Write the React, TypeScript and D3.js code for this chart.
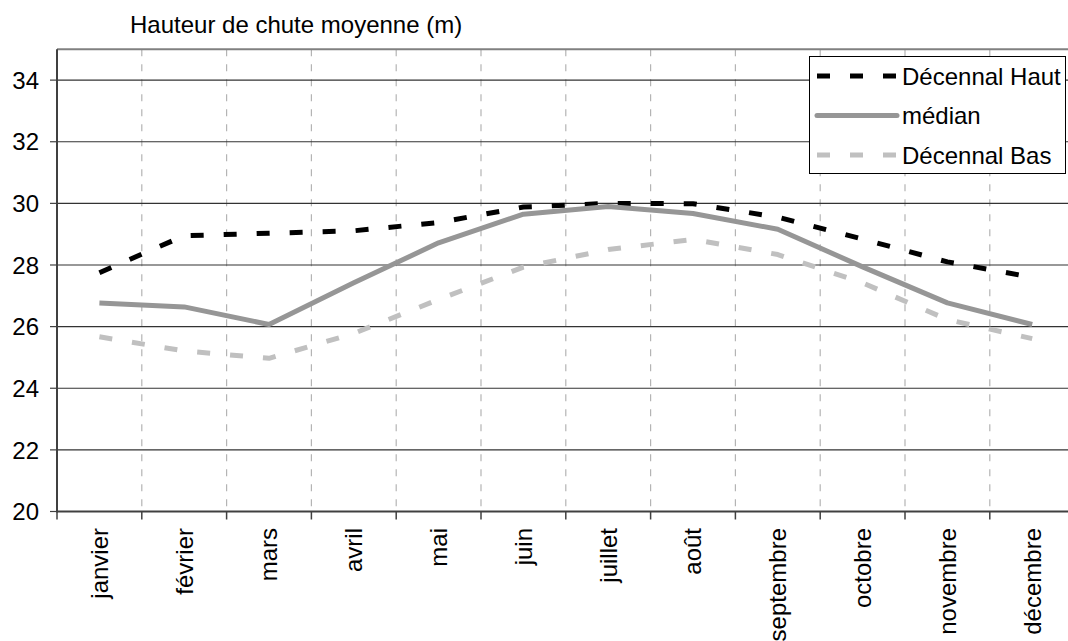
import React from "react";
import * as d3 from "d3";

const months = ["janvier", "février", "mars", "avril", "mai", "juin", "juillet", "août", "septembre", "octobre", "novembre", "décembre"];
const decennalHaut = [27.75, 28.95, 29.03, 29.11, 29.38, 29.88, 30.0, 29.99, 29.55, 28.84, 28.1, 27.6];
const median = [26.77, 26.64, 26.07, 27.42, 28.72, 29.65, 29.9, 29.67, 29.16, 27.94, 26.77, 26.07];
const decennalBas = [25.67, 25.21, 24.97, 25.78, 26.88, 27.93, 28.5, 28.83, 28.34, 27.42, 26.23, 25.61];
const yTicks = [20, 22, 24, 26, 28, 30, 32, 34];
const title = "Hauteur de chute moyenne (m)";
const seriesNames = ["Décennal Haut", "médian", "Décennal Bas"];

const W = 1068;
const H = 641;
const FONT = "'Liberation Sans', Arial, sans-serif";
const FS = 24;

export default function App() {
  const left = 57;
  const bandW = 84.8;
  const x = d3.scaleBand<string>().domain(months).range([left, left + bandW * months.length]).padding(0);
  const y = d3.scaleLinear().domain([20, 35]).range([511.5, 49.3]);
  const cx = (m: string) => (x(m) as number) + x.bandwidth() / 2;
  const line = d3
    .line<number>()
    .x((_, i) => cx(months[i]))
    .y((v) => y(v));

  const series = [
    { name: seriesNames[0], values: decennalHaut, color: "#000000", dash: "13 20" },
    { name: seriesNames[1], values: median, color: "#969696", dash: "" },
    { name: seriesNames[2], values: decennalBas, color: "#c0c0c0", dash: "13 20" },
  ];

  const boundaries = months.map((m) => x(m) as number).slice(1);
  const yBottom = y(20);
  const yTop = y(35);

  return (
    <svg width={W} height={H} style={{ position: "absolute", left: 0, top: 0, background: "#fff" }} fontFamily={FONT}>
      <rect x={0} y={0} width={W} height={H} fill="#fff" />
      <text x={130} y={33} fontSize={FS} fill="#000">{title}</text>

      {/* vertical dashed gridlines */}
      {boundaries.map((bx, i) => (
        <line key={"v" + i} x1={bx} x2={bx} y1={yTop} y2={yBottom} stroke="#b4b4b4" strokeWidth={1.2} strokeDasharray="7 8" />
      ))}
      {/* horizontal gridlines */}
      {yTicks.slice(1).map((t) => (
        <line key={"h" + t} x1={left} x2={W} y1={y(t)} y2={y(t)} stroke="#333" strokeWidth={1.2} />
      ))}
      {/* top border */}
      <line x1={left} x2={W} y1={yTop} y2={yTop} stroke="#808080" strokeWidth={2} />

      {/* series */}
      {series.map((s) => (
        <path key={s.name} d={line(s.values) as string} fill="none" stroke={s.color} strokeWidth={5} strokeDasharray={s.dash || undefined} strokeLinejoin="round" />
      ))}

      {/* axes */}
      <line x1={left} x2={left} y1={yTop} y2={yBottom + 1} stroke="#404040" strokeWidth={2} />
      <line x1={left} x2={W} y1={yBottom} y2={yBottom} stroke="#404040" strokeWidth={2} />
      {yTicks.map((t) => (
        <g key={"yt" + t}>
          <line x1={left - 7} x2={left} y1={y(t)} y2={y(t)} stroke="#404040" strokeWidth={1.2} />
          <text x={39} y={y(t)} dy="0.36em" textAnchor="end" fontSize={FS} fill="#000">{t}</text>
        </g>
      ))}
      {[left, ...boundaries].map((bx, i) => (
        <line key={"xt" + i} x1={bx} x2={bx} y1={yBottom} y2={yBottom + 8} stroke="#404040" strokeWidth={1.5} />
      ))}
      {months.map((m) => (
        <text key={m} transform={`translate(${cx(m)},528) rotate(-90)`} textAnchor="end" dy="0.35em" fontSize={FS} fill="#000">{m}</text>
      ))}

      {/* legend */}
      <rect x={809.5} y={56.5} width={256} height={117} fill="#fff" stroke="#000" strokeWidth={1} />
      {series.map((s, i) => {
        const ly = 76 + i * 39.5;
        return (
          <g key={"lg" + s.name}>
            <line x1={817} x2={897} y1={ly} y2={ly} stroke={s.color} strokeWidth={5} strokeDasharray={s.dash ? "13 20" : undefined} strokeLinecap={s.dash ? "butt" : "round"} />
            <text x={902} y={ly} dy="0.36em" fontSize={FS} fill="#000">{s.name}</text>
          </g>
        );
      })}
    </svg>
  );
}
